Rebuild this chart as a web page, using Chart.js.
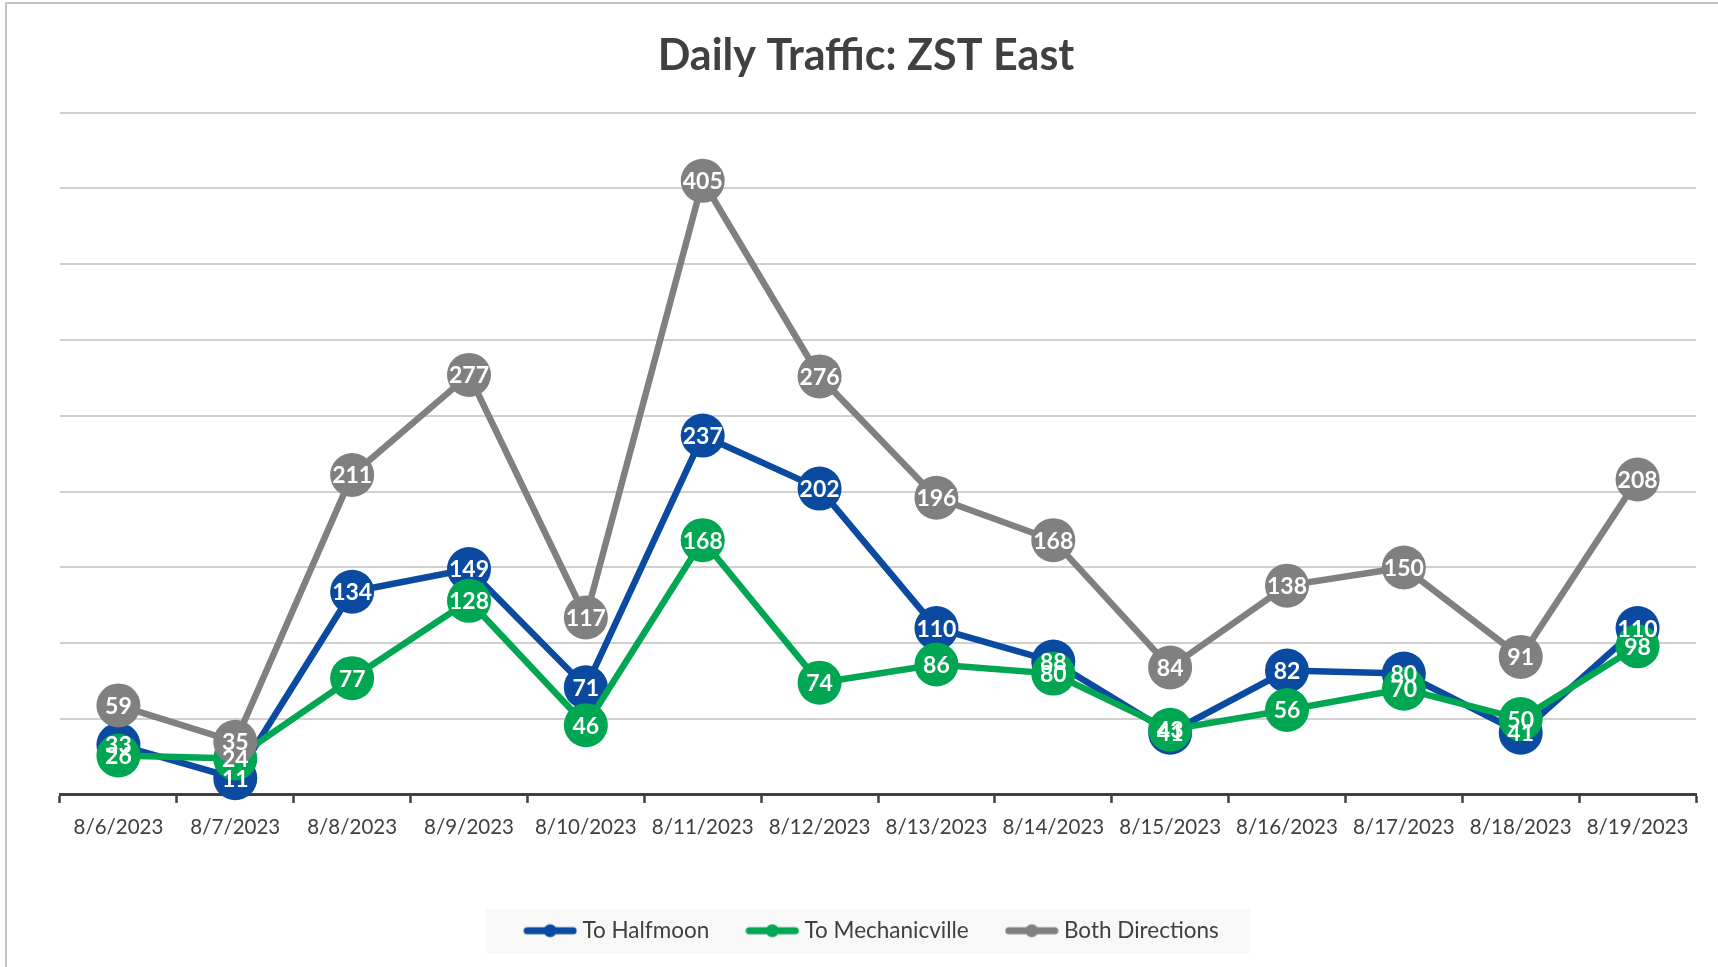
<!DOCTYPE html>
<html>
<head>
<meta charset="utf-8">
<title>Daily Traffic: ZST East</title>
<script src="https://cdn.jsdelivr.net/npm/chart.js@4.4.0/dist/chart.umd.min.js"></script>
<style>
  html, body { margin: 0; padding: 0; background: #fff; }
  #wrap { width: 1718px; height: 967px; position: relative; }
</style>
</head>
<body>
<div id="wrap"><canvas id="trafficChart"></canvas></div>
<script>
// Chart data
const days = ['8/6/2023', '8/7/2023', '8/8/2023', '8/9/2023', '8/10/2023', '8/11/2023', '8/12/2023',
              '8/13/2023', '8/14/2023', '8/15/2023', '8/16/2023', '8/17/2023', '8/18/2023', '8/19/2023'];
const toHalfmoon = [33, 11, 134, 149, 71, 237, 202, 110, 88, 41, 82, 80, 41, 110];
const toMechanicville = [26, 24, 77, 128, 46, 168, 74, 86, 80, 43, 56, 70, 50, 98];
const bothDirections = [59, 35, 211, 277, 117, 405, 276, 196, 168, 84, 138, 150, 91, 208];
const seriesNames = ['To Halfmoon', 'To Mechanicville', 'Both Directions'];
const yTicks = [0, 50, 100, 150, 200, 250, 300, 350, 400, 450];

const colors = ['#0a4aa1', '#00a651', '#808083'];
const FONT = 'Lato, "Open Sans", sans-serif';

// little line-with-dot marker for the legend (Excel style)
function legendMarker(color) {
    const c = document.createElement('canvas');
    c.width = 54;
    c.height = 16;
    const g = c.getContext('2d');
    g.strokeStyle = color;
    g.lineWidth = 7;
    g.lineCap = 'round';
    g.beginPath();
    g.moveTo(4, 8);
    g.lineTo(50, 8);
    g.stroke();
    g.fillStyle = color;
    g.beginPath();
    g.arc(27, 8, 6.5, 0, Math.PI * 2);
    g.fill();
    return c;
}
const markers = colors.map(legendMarker);

// white page, frame lines and grey legend box
const backdrop = {
    id: 'backdrop',
    afterLayout(chart) {
        // legend sits a little right of the plot centre
        chart.legend.left += 8;
        chart.legend.right += 8;
    },
    beforeDraw(chart) {
        const ctx = chart.ctx;
        ctx.save();
        ctx.fillStyle = '#fff';
        ctx.fillRect(0, 0, chart.width, chart.height);
        ctx.strokeStyle = '#c4c4c4';
        ctx.lineWidth = 2;
        ctx.beginPath();
        ctx.moveTo(6, chart.height);
        ctx.lineTo(6, 3);
        ctx.lineTo(chart.width, 3);
        ctx.stroke();

        const boxes = chart.legend.legendHitBoxes;
        if (boxes && boxes.length) {
            const first = boxes[0];
            const last = boxes[boxes.length - 1];
            const cy = first.top + first.height / 2;
            ctx.fillStyle = '#f8f8f8';
            ctx.fillRect(first.left - 43, cy - 22, last.left + last.width + 31 - (first.left - 43), 45);
        }
        ctx.restore();
    }
};

// values written in the middle of every marker
const pointLabels = {
    id: 'pointLabels',
    afterDatasetsDraw(chart) {
        const ctx = chart.ctx;
        ctx.save();
        ctx.font = 'bold 23px ' + FONT;
        ctx.fillStyle = '#fff';
        ctx.textAlign = 'center';
        ctx.textBaseline = 'middle';
        chart.data.datasets.forEach((ds, i) => {
            chart.getDatasetMeta(i).data.forEach((pt, j) => {
                ctx.fillText(ds.data[j], pt.x, pt.y + 1);
            });
        });
        ctx.restore();
    }
};

const makeSeries = (idx, values, order) => ({
    label: seriesNames[idx],
    data: values,
    borderColor: colors[idx],
    backgroundColor: colors[idx],
    borderWidth: 6.5,
    pointRadius: 22,
    pointHoverRadius: 22,
    pointBorderWidth: 0,
    pointBackgroundColor: colors[idx],
    tension: 0,
    clip: false,
    order: order
});

const ctx = document.getElementById('trafficChart').getContext('2d');
const trafficChart = new Chart(ctx, {
    type: 'line',
    data: {
        labels: days,
        datasets: [
            makeSeries(0, toHalfmoon, 3),
            makeSeries(1, toMechanicville, 2),
            makeSeries(2, bothDirections, 1)
        ]
    },
    plugins: [backdrop, pointLabels],
    options: {
        responsive: true,
        maintainAspectRatio: false,
        animation: false,
        events: [],
        layout: {
            padding: { top: 0, left: 36, right: 22, bottom: 15 }
        },
        scales: {
            x: {
                offset: true,
                border: { display: true, color: '#404040', width: 3 },
                grid: {
                    display: true,
                    offset: true,
                    drawOnChartArea: false,
                    drawTicks: true,
                    tickLength: 8,
                    tickWidth: 2.5,
                    tickColor: '#404040'
                },
                ticks: {
                    color: '#404040',
                    font: { family: FONT, size: 20.5 },
                    padding: 12,
                    maxRotation: 0,
                    autoSkip: false
                },
                // leave the empty band between the dates and the legend
                afterFit: axis => { axis.height += 26; }
            },
            y: {
                min: 0,
                max: 450,
                afterBuildTicks: axis => { axis.ticks = yTicks.map(v => ({ value: v })); },
                afterFit: axis => { axis.width = 24; },
                border: { display: false },
                grid: { color: '#d0d0d0', lineWidth: 2, drawTicks: false },
                ticks: { display: false }
            }
        },
        plugins: {
            title: {
                display: true,
                text: 'Daily Traffic: ZST East',
                color: '#404040',
                font: { family: FONT, size: 43, weight: 'bold' },
                padding: { top: 30, bottom: 31 }
            },
            legend: {
                display: true,
                position: 'bottom',
                labels: {
                    color: '#404040',
                    font: { family: FONT, size: 22.5 },
                    usePointStyle: true,
                    pointStyleWidth: 42,
                    boxHeight: 16,
                    padding: 42,
                    sort: (a, b) => a.datasetIndex - b.datasetIndex,
                    generateLabels: chart => Chart.defaults.plugins.legend.labels.generateLabels(chart)
                        .map(item => Object.assign(item, { pointStyle: markers[item.datasetIndex] }))
                }
            },
            tooltip: { enabled: false }
        }
    }
});
</script>
</body>
</html>
